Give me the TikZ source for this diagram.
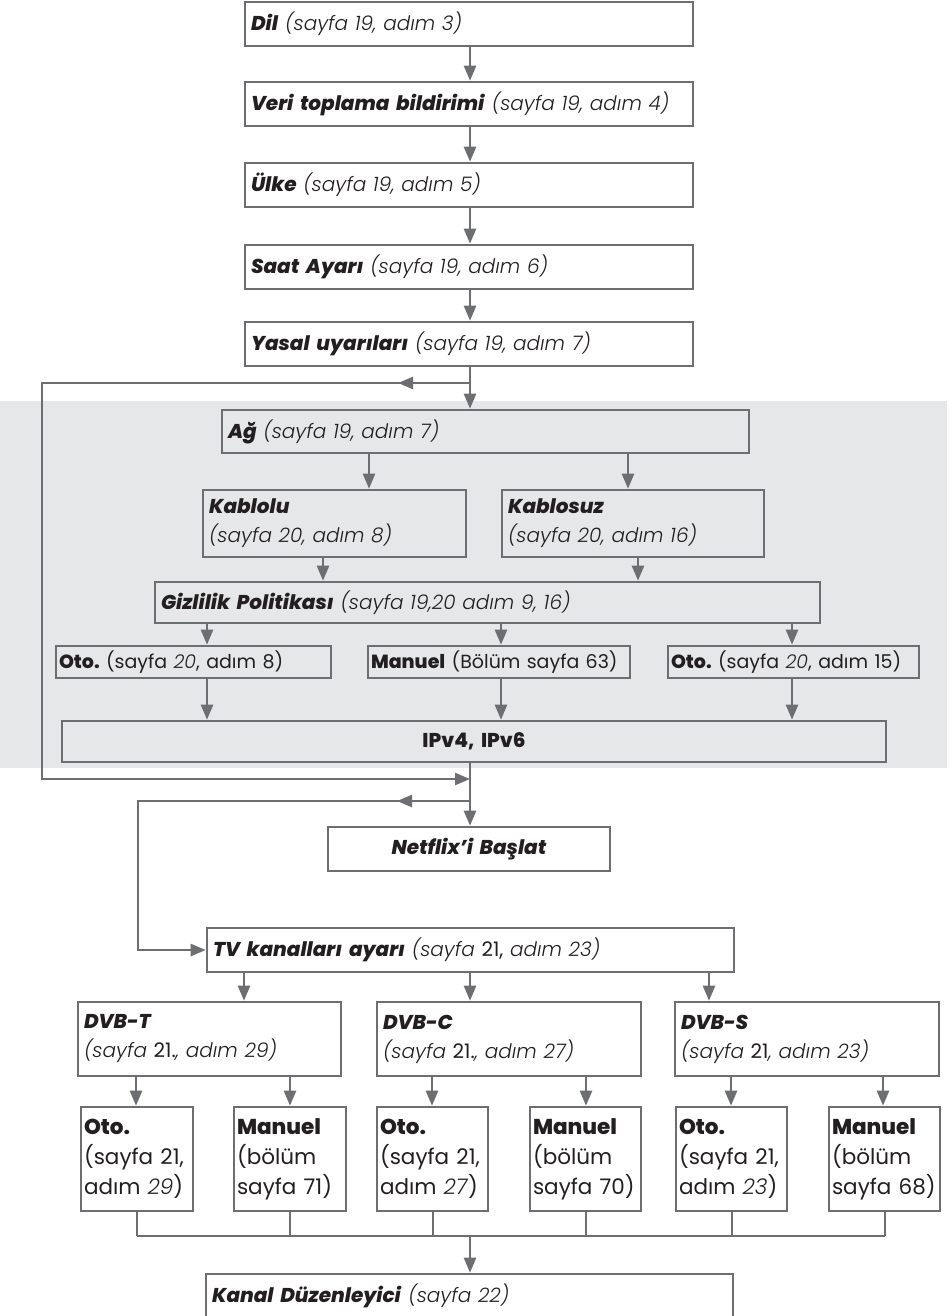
\documentclass[tikz,border=0pt]{standalone}
\usepackage{fontspec}
\setmainfont{Poppins}[
  ItalicFont={Poppins Light Italic},
  BoldFont={Poppins ExtraBold},
  BoldItalicFont={Poppins ExtraBold Italic}]
\usetikzlibrary{arrows.meta}
\definecolor{lg}{HTML}{6D6E71}
\definecolor{bgg}{HTML}{E6E7E8}
\definecolor{tx}{HTML}{231F20}
\newcommand{\bfit}[1]{\textbf{\textit{#1}}}
\frenchspacing
\begin{document}
\begin{tikzpicture}[x=1pt,y=-1pt,
  box/.style={draw=lg, line width=2.6pt, fill=white, inner xsep=6pt, inner ysep=0pt,
    text=tx, align=left, font=\fontsize{20}{29}\selectfont},
  gbox/.style={box, fill=bgg},
  rbox/.style={gbox, inner xsep=3pt, font=\fontsize{19}{24}\selectfont},
  sbox/.style={box, inner xsep=3pt, font=\fontsize{21.5}{30}\selectfont},
  line/.style={draw=lg, line width=2.4pt},
  arr/.style={line, -{Triangle[length=15pt,width=12pt]}},
  bus/.style={draw=lg, line width=2pt}]
\useasboundingbox (0,0) rectangle (952,1316);
\fill[bgg] (0,401) rectangle (947,768);

% top chain
\node[box, text width=436pt, minimum height=44pt] (dil) at (469,24) {\bfit{Dil} \textit{(sayfa 19, adım 3)}};
\node[box, text width=436pt, minimum height=44pt] (veri) at (469,104) {\bfit{Veri toplama bildirimi} \textit{(sayfa 19, adım 4)}};
\node[box, text width=436pt, minimum height=44pt] (ulke) at (469,185) {\bfit{Ülke} \textit{(sayfa 19, adım 5)}};
\node[box, text width=436pt, minimum height=44pt] (saat) at (469,267) {\bfit{Saat Ayarı} \textit{(sayfa 19, adım 6)}};
\node[box, text width=436pt, minimum height=44pt] (yasal) at (469,344) {\bfit{Yasal uyarıları} \textit{(sayfa 19, adım 7)}};

% network block
\node[gbox, text width=515pt, minimum height=43pt] (ag) at (485.5,431.5) {\bfit{Ağ} \textit{(sayfa 19, adım 7)}};
\node[gbox, text width=251pt, minimum height=67pt] (kablolu) at (334.5,523.5) {\bfit{Kablolu}\\\textit{(sayfa 20, adım 8)}};
\node[gbox, text width=250pt, minimum height=67pt] (kablosuz) at (633,523.5) {\bfit{Kablosuz}\\\textit{(sayfa 20, adım 16)}};
\node[gbox, text width=653pt, minimum height=41pt] (gizlilik) at (487.5,602.5) {\bfit{Gizlilik Politikası} \textit{(sayfa 19,20 adım 9, 16)}};
\node[rbox, text width=269pt, minimum height=32pt] (oto1) at (193.5,662) {\textbf{Oto.} (sayfa \textit{20}, adım 8)};
\node[rbox, text width=256pt, minimum height=32pt] (manuel) at (499,662) {\textbf{Manuel} (Bölüm sayfa 63)};
\node[rbox, text width=245pt, minimum height=32pt] (oto2) at (793.5,662) {\textbf{Oto.} (sayfa \textit{20}, adım 15)};
\node[gbox, align=center, text width=812pt, minimum height=41pt] (ipv4) at (474,741.5) {\textbf{IPv4, IPv6}};

% netflix and tv
\node[box, align=center, text width=270pt, minimum height=44pt] (netflix) at (469,849) {\bfit{Netflix’i Başlat}};
\node[box, text width=515pt, minimum height=44pt] (tv) at (470.5,950) {\bfit{TV kanalları ayarı} \textit{(sayfa }21, \textit{adım 23)}};
\node[box, text width=251pt, minimum height=74pt] (dvbt) at (209.5,1039) {\bfit{DVB-T}\\\textit{(sayfa }21.\textit{, adım 29)}};
\node[box, text width=252pt, minimum height=74pt] (dvbc) at (509,1039) {\bfit{DVB-C}\\\textit{(sayfa }21.\textit{, adım 27)}};
\node[box, text width=252pt, minimum height=74pt] (dvbs) at (807,1039) {\bfit{DVB-S}\\\textit{(sayfa }21\textit{, adım 23)}};

\node[sbox, text width=106pt, minimum height=104pt] (otoT) at (137,1159) {\textbf{Oto.}\\(sayfa 21,\\adım \textit{29})};
\node[sbox, text width=106pt, minimum height=104pt] (manT) at (290,1159) {\textbf{Manuel}\\(bölüm\\sayfa 71)};
\node[sbox, text width=105pt, minimum height=104pt] (otoC) at (432.5,1159) {\textbf{Oto.}\\(sayfa 21,\\adım \textit{27})};
\node[sbox, text width=105pt, minimum height=104pt] (manC) at (585.5,1159) {\textbf{Manuel}\\(bölüm\\sayfa 70)};
\node[sbox, text width=105pt, minimum height=104pt] (otoS) at (731.5,1159) {\textbf{Oto.}\\(sayfa 21,\\adım \textit{23})};
\node[sbox, text width=105pt, minimum height=104pt] (manS) at (884.5,1159) {\textbf{Manuel}\\(bölüm\\sayfa 68)};

\node[box, text width=515pt, minimum height=44pt] (kanal) at (469.5,1296) {\bfit{Kanal Düzenleyici} \textit{(sayfa 22)}};

% helper coordinates
\coordinate (cx) at (470,0);
\coordinate (br1) at (470,383);
\coordinate (ah1) at (398,383);
\coordinate (lp1a) at (42,383);
\coordinate (lp1b) at (42,779);
\coordinate (jn1) at (470,779);
\coordinate (br2) at (470,801);
\coordinate (ah2) at (397,801);
\coordinate (lp2a) at (138,801);
\coordinate (k1) at (369,0);
\coordinate (k2) at (628,0);
\coordinate (g1) at (323,0);
\coordinate (g2) at (638,0);
\coordinate (o1) at (207,0);
\coordinate (o2) at (501,0);
\coordinate (o3) at (792,0);
\coordinate (t1) at (244,0);
\coordinate (t3) at (709,0);
\coordinate (d1) at (136,0);
\coordinate (d2) at (290,0);
\coordinate (d3) at (432,0);
\coordinate (d4) at (586,0);
\coordinate (d5) at (731,0);
\coordinate (d6) at (883,0);
\coordinate (busy) at (0,1236);

% top chain connectors
\draw[arr] (dil.south -| cx) -- (veri.north -| cx);
\draw[arr] (veri.south -| cx) -- (ulke.north -| cx);
\draw[arr] (ulke.south -| cx) -- (saat.north -| cx);
\draw[arr] (saat.south -| cx) -- (yasal.north -| cx);
\draw[line] (yasal.south -| cx) -- (br1);
\draw[arr] (br1) -- (ag.north -| cx);
\draw[arr] (br1) -- (ah1);
\draw[arr] (br1) -- (lp1a) -- (lp1b) -- (jn1);

% network connectors
\draw[arr] (ag.south -| k1) -- (kablolu.north -| k1);
\draw[arr] (ag.south -| k2) -- (kablosuz.north -| k2);
\draw[arr] (kablolu.south -| g1) -- (gizlilik.north -| g1);
\draw[arr] (kablosuz.south -| g2) -- (gizlilik.north -| g2);
\draw[arr] (gizlilik.south -| o1) -- (oto1.north -| o1);
\draw[arr] (gizlilik.south -| o2) -- (manuel.north -| o2);
\draw[arr] (gizlilik.south -| o3) -- (oto2.north -| o3);
\draw[arr] (oto1.south -| o1) -- (ipv4.north -| o1);
\draw[arr] (manuel.south -| o2) -- (ipv4.north -| o2);
\draw[arr] (oto2.south -| o3) -- (ipv4.north -| o3);

% ipv4 to netflix and loop 2
\draw[line] (ipv4.south -| cx) -- (jn1);
\draw[arr] (jn1) -- (netflix.north -| cx);
\draw[arr] (br2) -- (ah2);
\draw[arr] (br2) -- (lp2a) -- (lp2a |- tv.west) -- (tv.west);

% tv tree
\draw[arr] (tv.south -| t1) -- (dvbt.north -| t1);
\draw[arr] (tv.south -| cx) -- (dvbc.north -| cx);
\draw[arr] (tv.south -| t3) -- (dvbs.north -| t3);
\draw[arr] (dvbt.south -| d1) -- (otoT.north -| d1);
\draw[arr] (dvbt.south -| d2) -- (manT.north -| d2);
\draw[arr] (dvbc.south -| d3) -- (otoC.north -| d3);
\draw[arr] (dvbc.south -| d4) -- (manC.north -| d4);
\draw[arr] (dvbs.south -| d5) -- (otoS.north -| d5);
\draw[arr] (dvbs.south -| d6) -- (manS.north -| d6);

% bus
\draw[bus] (otoT.south) -- (otoT.south |- busy);
\draw[bus] (manT.south) -- (manT.south |- busy);
\draw[bus] (otoC.south) -- (otoC.south |- busy);
\draw[bus] (manC.south) -- (manC.south |- busy);
\draw[bus] (otoS.south) -- (otoS.south |- busy);
\draw[bus] (manS.south) -- (manS.south |- busy);
\draw[bus] (otoT.south |- busy) -- (manS.south |- busy);
\draw[arr] (busy -| cx) -- (kanal.north -| cx);
\end{tikzpicture}
\end{document}
